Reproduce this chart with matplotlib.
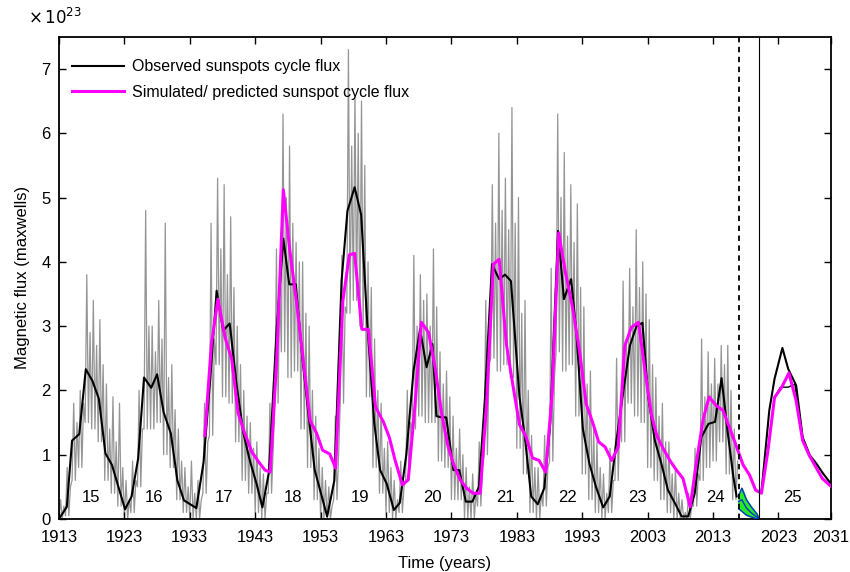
import matplotlib
matplotlib.use("Agg")
import matplotlib.pyplot as plt
import numpy as np

plt.rcParams['font.family'] = ['Liberation Sans', 'DejaVu Sans']

# observed cycle flux (black), units of 1e23 Mx
obs_year = [1913.0, 1914.2, 1915.0, 1916.1, 1917.1, 1918.1, 1919.1, 1920.1, 1921.1, 1923.1,
            1924.1, 1925.1, 1926.0, 1927.1, 1928.0, 1929.0, 1930.1, 1931.1, 1932.1, 1934.0,
            1935.1, 1936.1, 1937.1, 1938.1, 1939.1, 1940.2, 1941.2, 1942.2, 1943.2, 1944.1,
            1945.1, 1946.3, 1947.3, 1948.2, 1949.2, 1950.2, 1951.3, 1952.1, 1954.0, 1955.1,
            1956.2, 1957.1, 1958.2, 1959.2, 1960.1, 1961.2, 1962.1, 1963.1, 1964.2, 1965.1,
            1966.1, 1967.2, 1968.2, 1969.2, 1970.1, 1970.7, 1971.5, 1972.2, 1973.3, 1974.2,
            1975.2, 1976.2, 1977.2, 1978.1, 1979.2, 1980.3, 1981.2, 1982.1, 1983.4, 1984.2,
            1985.2, 1986.2, 1987.2, 1988.1, 1989.3, 1990.2, 1991.3, 1992.1, 1993.1, 1994.1,
            1995.1, 1996.2, 1997.2, 1998.2, 1999.3, 2000.3, 2001.3, 2002.2, 2003.1, 2004.1,
            2005.1, 2006.1, 2007.2, 2008.2, 2009.2, 2010.2, 2011.2, 2012.3, 2013.3, 2014.3,
            2015.2, 2016.1, 2016.6]
obs_flux = [0.00, 0.19, 1.22, 1.32, 2.33, 2.15, 1.87, 1.02, 0.84, 0.15,
            0.35, 0.94, 2.20, 2.04, 2.25, 1.66, 1.33, 0.60, 0.29, 0.17,
            0.88, 2.15, 3.55, 2.93, 3.04, 2.05, 1.33, 0.90, 0.55, 0.18,
            0.73, 2.98, 4.36, 3.65, 3.65, 2.51, 1.48, 0.76, 0.04, 0.60,
            3.70, 4.79, 5.16, 4.73, 3.10, 1.49, 0.76, 0.55, 0.14, 0.25,
            1.00, 2.30, 2.95, 2.36, 2.72, 1.60, 1.58, 1.58, 0.76, 0.76,
            0.27, 0.27, 0.50, 1.84, 3.96, 3.73, 3.80, 3.70, 1.90, 1.30,
            0.35, 0.23, 0.48, 1.48, 4.48, 3.42, 3.73, 2.90, 1.40, 0.86,
            0.50, 0.18, 0.35, 1.20, 2.00, 2.70, 3.00, 3.05, 1.89, 1.22,
            0.86, 0.45, 0.24, 0.04, 0.04, 0.40, 1.27, 1.48, 1.51, 2.19,
            1.38, 0.66, 0.35]

# cycle 25 prediction (black, two curves)
pred_year = [2020.4, 2021.6, 2022.4, 2023.6, 2024.5, 2025.7, 2026.7, 2027.8, 2028.8, 2029.8, 2031.0]
pred_flux = [0.42, 1.69, 2.18, 2.66, 2.33, 2.08, 1.27, 0.99, 0.86, 0.71, 0.55]
pred2_year = [2020.4, 2021.4, 2022.4, 2023.3, 2024.5, 2025.5, 2026.7]
pred2_flux = [0.42, 1.07, 1.89, 2.05, 2.05, 2.10, 1.27]

# simulated / predicted flux (magenta)
sim_year = [1935.3, 1936.3, 1937.3, 1938.4, 1939.4, 1940.4, 1941.4, 1942.5, 1943.5, 1944.5,
            1945.3, 1946.3, 1947.3, 1948.3, 1949.3, 1950.3, 1951.4, 1952.4, 1953.3, 1954.4,
            1955.3, 1956.4, 1957.4, 1958.2, 1959.3, 1960.3, 1961.4, 1962.6, 1963.5, 1964.4,
            1965.5, 1966.4, 1967.4, 1968.4, 1969.5, 1970.5, 1971.5, 1972.5, 1973.4, 1974.4,
            1975.3, 1976.3, 1977.4, 1978.4, 1979.4, 1980.3, 1981.4, 1982.4, 1983.4, 1984.4,
            1985.4, 1986.4, 1987.4, 1988.4, 1989.4, 1990.4, 1991.5, 1992.6, 1993.6, 1994.6,
            1995.5, 1996.5, 1997.5, 1998.5, 1999.5, 2000.5, 2001.6, 2002.7, 2003.6, 2004.4,
            2005.4, 2006.4, 2007.4, 2008.4, 2009.5, 2010.5, 2011.5, 2012.4, 2013.4, 2014.5,
            2015.6, 2016.6, 2017.6, 2018.6, 2019.5, 2020.4, 2021.4, 2022.4, 2023.5, 2024.6,
            2025.7, 2026.7, 2027.7, 2028.7, 2029.7, 2031.0]
sim_flux = [1.30, 2.72, 3.42, 2.82, 2.49, 1.64, 1.33, 1.04, 0.89, 0.76,
            0.73, 2.51, 5.12, 4.17, 3.39, 2.51, 1.53, 1.33, 1.07, 1.01,
            0.79, 3.39, 4.11, 4.13, 2.95, 2.95, 1.74, 1.51, 1.27, 0.91,
            0.53, 0.61, 1.74, 3.06, 2.90, 2.36, 1.64, 1.12, 0.83, 0.60,
            0.48, 0.40, 0.40, 1.84, 3.96, 4.04, 2.72, 2.08, 1.47, 1.28,
            0.95, 0.91, 0.73, 1.95, 4.45, 3.85, 3.30, 2.60, 1.79, 1.50,
            1.20, 1.12, 0.91, 1.12, 2.69, 2.98, 3.06, 2.23, 1.61, 1.30,
            1.09, 0.91, 0.76, 0.63, 0.19, 0.91, 1.56, 1.90, 1.77, 1.69,
            1.40, 1.12, 0.84, 0.68, 0.45, 0.40, 1.07, 1.89, 2.05, 2.27,
            1.84, 1.22, 0.99, 0.81, 0.63, 0.51]

# raw observed flux (grey), summarised per year: top spike, trough, second spike
grey_year = list(range(1913, 2017))
grey_hi = [0.3, 0.8, 1.8, 2.0, 3.8, 3.4, 3.1, 2.1, 1.9, 1.8,
           0.6, 0.9, 2.0, 4.8, 3.0, 3.4, 4.6, 2.4, 1.4, 0.8,
           0.9, 0.6, 1.8, 4.6, 5.3, 5.2, 4.7, 3.0, 2.0, 1.5,
           1.2, 0.7, 1.8, 4.2, 6.3, 5.8, 4.3, 4.0, 3.0, 1.6,
           0.8, 0.5, 1.6, 4.1, 7.3, 6.6, 6.5, 4.0, 2.8, 1.8,
           1.2, 0.6, 0.9, 2.0, 4.1, 3.8, 3.5, 4.2, 2.6, 2.3,
           1.6, 1.4, 0.8, 0.7, 1.2, 3.4, 5.2, 6.0, 5.3, 6.4,
           5.0, 3.4, 1.3, 0.8, 1.3, 3.9, 6.3, 5.7, 5.2, 4.9,
           3.3, 2.3, 1.2, 0.7, 1.1, 2.5, 3.7, 3.9, 4.5, 4.0,
           3.1, 2.2, 1.8, 1.2, 0.8, 0.3, 0.4, 1.1, 2.8, 2.6,
           2.5, 2.7, 2.7, 1.4]
grey_lo = [0.0, 0.05, 0.6, 0.8, 1.5, 1.4, 1.2, 0.6, 0.4, 0.2,
           0.0, 0.1, 0.5, 1.4, 1.4, 1.5, 1.0, 0.8, 0.3, 0.1,
           0.0, 0.0, 0.4, 1.3, 2.4, 1.9, 1.8, 1.2, 0.6, 0.4,
           0.1, 0.0, 0.4, 1.8, 2.6, 2.2, 2.3, 1.4, 0.8, 0.3,
           0.0, 0.0, 0.3, 1.8, 3.2, 3.4, 3.0, 1.9, 0.8, 0.4,
           0.1, 0.0, 0.1, 0.6, 1.4, 1.6, 1.5, 1.5, 0.9, 0.8,
           0.3, 0.3, 0.0, 0.0, 0.2, 1.0, 2.5, 2.3, 2.4, 2.2,
           1.1, 0.7, 0.1, 0.0, 0.2, 0.9, 2.6, 2.3, 2.4, 1.6,
           0.7, 0.3, 0.1, 0.0, 0.1, 0.6, 1.2, 1.8, 1.6, 1.5,
           0.8, 0.6, 0.3, 0.1, 0.0, 0.0, 0.0, 0.2, 0.6, 0.8,
           0.9, 1.2, 0.7, 0.3]
grey_mid = [0.2, 0.5, 1.5, 1.8, 2.9, 2.7, 2.4, 1.4, 1.2, 0.8,
            0.3, 0.6, 1.4, 3.0, 2.6, 2.8, 2.2, 1.7, 0.9, 0.5,
            0.4, 0.3, 1.2, 2.8, 4.2, 3.8, 3.6, 2.4, 1.6, 1.1,
            0.8, 0.4, 1.1, 3.6, 5.0, 4.6, 4.0, 3.2, 2.0, 1.1,
            0.6, 0.2, 1.0, 3.3, 5.8, 6.0, 5.5, 3.6, 2.0, 1.1,
            0.8, 0.3, 0.5, 1.5, 3.0, 3.4, 3.0, 3.3, 2.1, 1.9,
            1.1, 1.0, 0.5, 0.4, 0.8, 2.4, 4.6, 4.8, 4.5, 4.6,
            3.2, 2.0, 0.8, 0.4, 0.8, 2.2, 5.0, 4.4, 4.3, 3.6,
            2.1, 1.4, 0.8, 0.4, 0.6, 1.6, 2.8, 3.3, 3.6, 3.5,
            2.4, 1.6, 1.2, 0.7, 0.4, 0.1, 0.2, 0.7, 1.9, 2.1,
            2.1, 2.4, 2.0, 0.9]

# uncertainty band 2017-2020 (green / blue)
band_year = [2016.9, 2017.4, 2018.1, 2018.9, 2019.7, 2020.0]
band_hi = [0.36, 0.48, 0.30, 0.18, 0.08, 0.01]
band_mid = [0.27, 0.30, 0.17, 0.09, 0.03, 0.0]
band_lo = [0.16, 0.12, 0.06, 0.03, 0.0, 0.0]

cycle_num = ['15', '16', '17', '18', '19', '20', '21', '22', '23', '24', '25']
cycle_pos = [1917.9, 1927.6, 1938.3, 1948.8, 1959.1, 1970.1, 1981.2, 1990.7, 2001.4, 2013.3, 2025.2]

xticks = [1913, 1923, 1933, 1943, 1953, 1963, 1973, 1983, 1993, 2003, 2013, 2023, 2031]

fig = plt.figure(figsize=(8.5, 5.72), dpi=100)
ax = fig.add_axes([0.0694, 0.0927, 0.908, 0.843])

# grey spiky raw data
gx, gy = [], []
for yr, h, l, m in zip(grey_year, grey_hi, grey_lo, grey_mid):
    gx += [yr, yr + 0.25, yr + 0.5, yr + 0.75]
    gy += [l, h, l, m]
ax.plot(gx, gy, color='#959595', lw=0.9, zorder=1)

ax.fill_between(band_year, band_lo, band_hi, color='#22ee22', zorder=2)
ax.plot(band_year, band_hi, color='#1030d0', lw=1.0, zorder=3)
ax.plot(band_year, band_lo, color='#1030d0', lw=1.0, zorder=3)
ax.plot(band_year, band_mid, color='#1030d0', lw=1.0, zorder=3)

ax.plot(obs_year, obs_flux, color='black', lw=1.5, zorder=4,
        label='Observed sunspots cycle flux')
ax.plot(pred_year, pred_flux, color='black', lw=1.5, zorder=4)
ax.plot(pred2_year, pred2_flux, color='black', lw=1.0, zorder=4)
ax.plot(sim_year, sim_flux, color='#ff00ff', lw=2.2, zorder=5,
        label='Simulated/ predicted sunspot cycle flux')

ax.axvline(2017.0, color='black', lw=1.3, ls=(0, (3, 2.5)), zorder=6)
ax.axvline(2020.0, color='black', lw=0.8, zorder=6)

for lab, xp in zip(cycle_num, cycle_pos):
    ax.text(xp, 0.34, lab, ha='center', va='center', fontsize=12)

ax.set_xlim(1913, 2031)
ax.set_ylim(0, 7.5)
ax.set_xticks(xticks)
ax.set_yticks(range(8))
ax.tick_params(direction='in', top=True, right=True, length=5, width=1, labelsize=12)
ax.tick_params(axis='x', pad=8)
ax.tick_params(axis='y', pad=6)
for s in ax.spines.values():
    s.set_linewidth(1.3)

ax.set_xlabel('Time (years)', fontsize=12, labelpad=8)
ax.set_ylabel('Magnetic flux (maxwells)', fontsize=12, labelpad=8)
fig.text(0.033, 0.958, r'$\times\,10^{23}$', fontsize=12, ha='left', va='baseline')

leg = ax.legend(loc='upper left', frameon=False, fontsize=11.5, handlelength=3.3,
                handletextpad=0.5, labelspacing=0.65, borderaxespad=0.4,
                bbox_to_anchor=(0.0, 0.98))

fig.savefig('out.png', dpi=100)
